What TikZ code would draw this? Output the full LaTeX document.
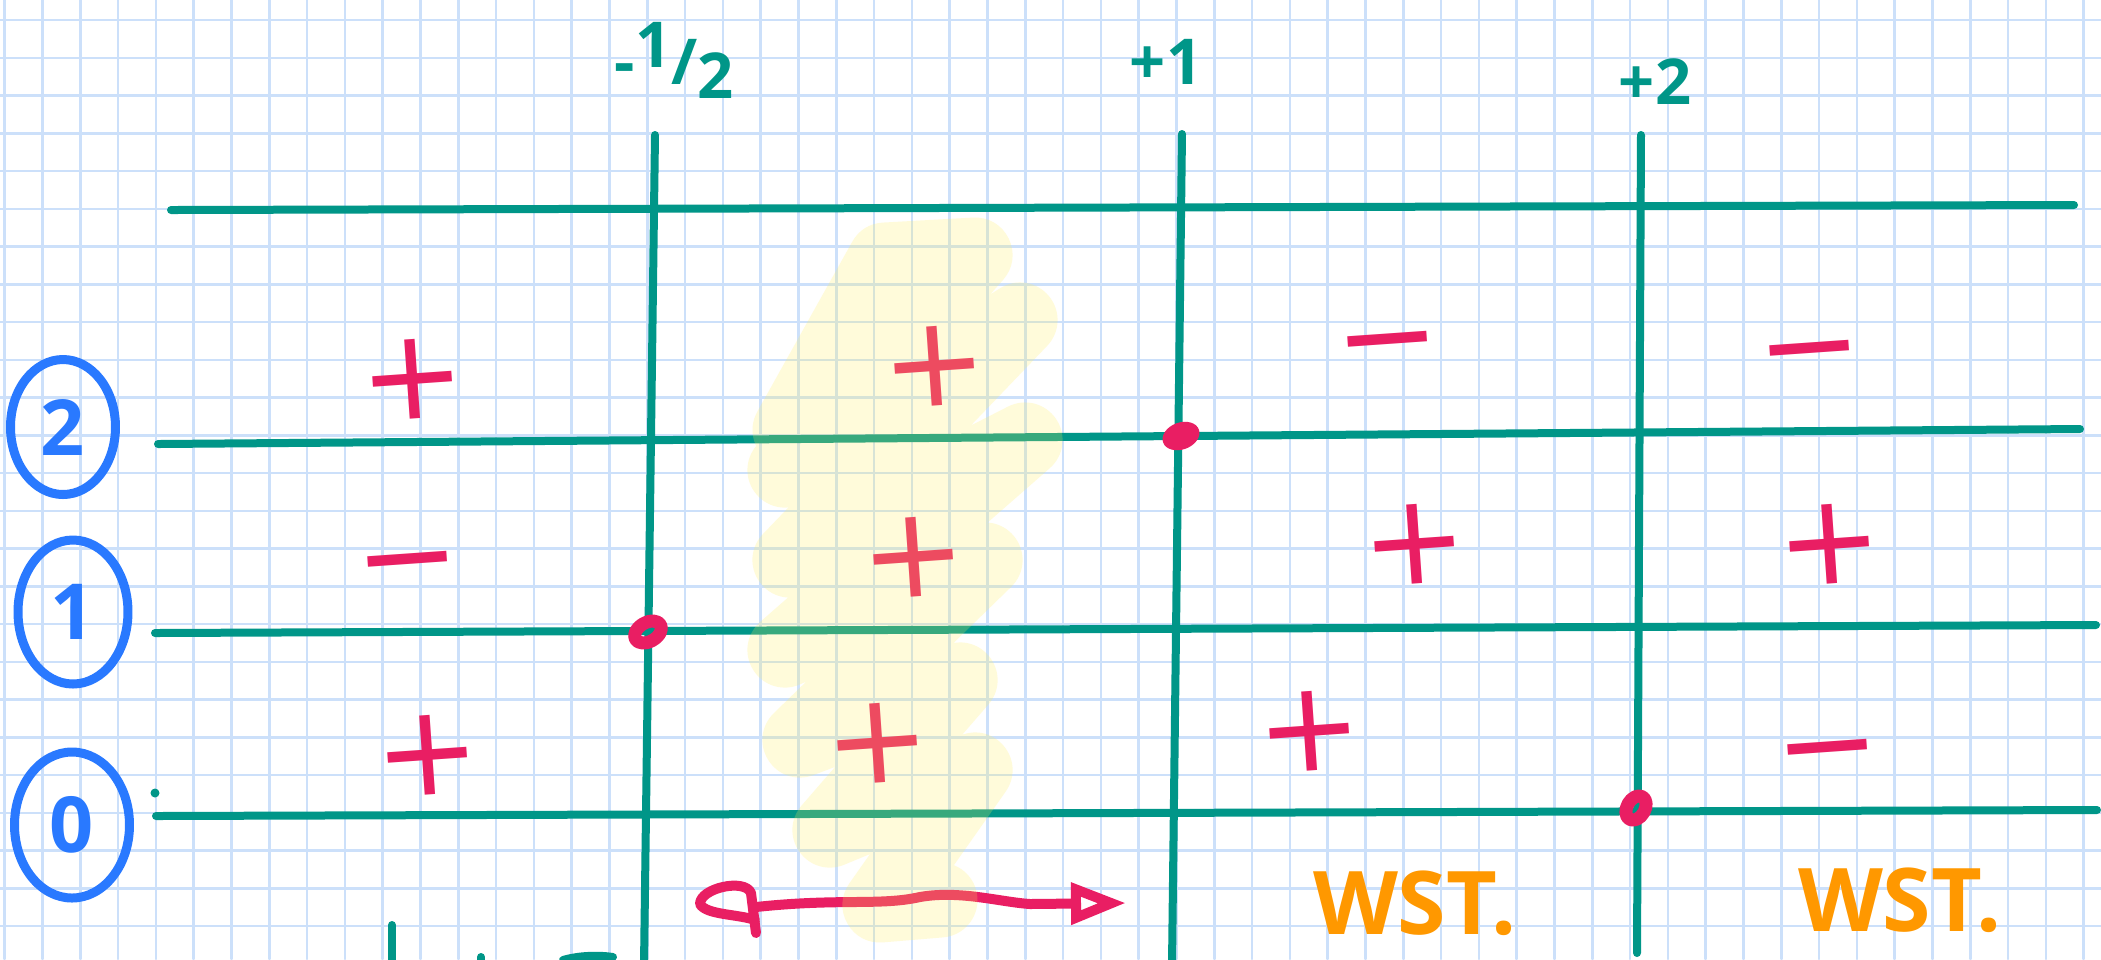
\documentclass[tikz,border=0pt]{standalone}
\usepackage{fontspec}
\setmainfont{Open Sans}
\newfontfamily\signfont{DejaVu Sans}
\usetikzlibrary{arrows.meta,shapes.geometric}
\definecolor{paperline}{HTML}{CCE0FA}
\definecolor{tealink}{HTML}{009688}
\definecolor{pinkink}{HTML}{E91E63}
\definecolor{blueink}{HTML}{2979FF}
\definecolor{orangeink}{HTML}{FF9800}
\definecolor{hilite}{HTML}{FFEE58}
\tikzset{>=Latex,
  paper/.style={draw=paperline,line width=.25mm},
  tabline/.style={draw=tealink,line width=.8mm},
  sgn/.style={text=pinkink,font=\signfont\fontsize{36}{36}\selectfont,inner sep=0pt,
    text height=22pt,text depth=0pt,rotate=4},
  ringdot/.style={draw=pinkink,line width=1.3mm},
  ticklabel/.style={text=tealink,font=\bfseries\fontsize{18}{18}\selectfont,inner sep=0pt},
  orderlabel/.style={ellipse,draw=blueink,line width=.9mm,text=blueink,
    font=\bfseries\fontsize{22}{22}\selectfont,minimum width=10.5mm,minimum height=13.5mm,inner sep=0pt},
  notelabel/.style={text=orangeink,font=\bfseries\fontsize{25}{25}\selectfont,inner sep=0pt},
  highlight/.style={draw=hilite,opacity=.22,line width=7.5mm}}

\begin{document}
\begin{tikzpicture}[x=.1mm,y=-.1mm,line cap=round,line join=round]
\path[use as bounding box] (0,0) rectangle (2101,959);
\fill[white] (0,0) rectangle (2101,959);
% squared paper
\foreach \k in {0,...,55} \draw[paper] ({4.7+37.8*\k},0)--({4.7+37.8*\k},959);
\foreach \k in {0,...,25} \draw[paper] (0,{20+37.75*\k})--(2101,{20+37.75*\k});
% sign table
\draw[tabline] (171,210)--(2074,205);\draw[tabline] (158,444)--(2080,429);
\draw[tabline] (155,633)--(2096,625);\draw[tabline] (156,816)--(2097,810);
\draw[tabline] (655,135)--(644,965);\draw[tabline] (1182,134)--(1172,965);\draw[tabline] (1641,135)--(1637,953);
\fill[tealink] (155,793) circle (.45mm);
\draw[tabline] (392,925)--(392,965);\draw[tabline] (481,957)--(481,965);
\draw[tabline] (563,960) .. controls (580,955) and (600,955) .. (613,957);
% column and row labels
\node[ticklabel] (xhalf) at (674,60) {-\raisebox{.5ex}{1}/\raisebox{-.4ex}{2}};
\node[ticklabel] (xone) at (1166,62) {+1};
\node[ticklabel] (xtwo) at (1655,82) {+2};
\node[orderlabel] (ord2) at (63,427) {2};
\node[orderlabel,minimum width=11mm,minimum height=14.4mm] (ord1) at (73,612) {1};
\node[orderlabel,minimum width=11.5mm,minimum height=14.6mm] (ord0) at (72,825) {0};
% signs
\foreach \nm/\px/\py/\sg in {s2a/413/380/+,s2b/935/367/+,s2c/1388/340/−,s2d/1810/349/−,
  s1a/408/560/−,s1b/914/558/+,s1c/1415/545/+,s1d/1830/545/+,
  s0a/428/756/+,s0b/878/744/+,s0c/1310/732/+,s0d/1828/748/−}
  \node[sgn] (\nm) at (\px,\py) {\sg};
% zeros
\draw[ringdot,shift={(648,632)},rotate=30] (0,0) ellipse [x radius=1.45mm,y radius=.95mm];
\fill[pinkink,shift={(1181,436)},rotate=20] (0,0) ellipse [x radius=1.9mm,y radius=1.35mm];
\draw[ringdot,shift={(1636,808)},rotate=60] (0,0) ellipse [x radius=1.3mm,y radius=.9mm];
% interval arrow
\coordinate (arrS) at (756,907);\coordinate (arrE) at (1126,903);
\draw[pinkink,line width=1mm] (756,933)--(751,893) .. controls (745,878) and (700,888) .. (700,904) .. controls (706,915) and (738,914) .. (755,920);
\draw[pinkink,line width=1mm,-{Triangle[open,length=5.5mm,width=4mm]}] (arrS) .. controls (840,898) and (880,906) .. (920,897) .. controls (960,890) and (1000,902) .. (1030,904) -- (arrE);
\node[notelabel] (ust1) at (1415,903) {WST.};
\node[notelabel] (ust2) at (1900,900) {WST.};
% marker scribble
\draw[highlight] (790,430)--(885,260)--(975,255)--(785,470)--(1020,320)--(790,560)--(1025,440)--(785,650)
  --(985,560)--(800,740)--(960,680)--(830,830)--(975,770)--(880,905)--(940,900);
\end{tikzpicture}
\end{document}
